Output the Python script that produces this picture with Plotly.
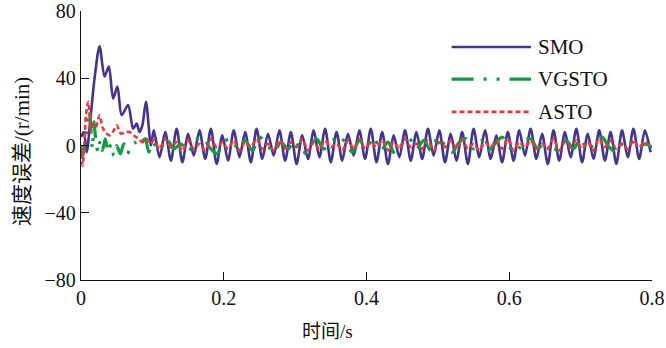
import numpy as np
import plotly.graph_objects as go

# ---------------- data ----------------
series_names = ["SMO", "VGSTO", "ASTO"]
x_tick_vals = [0, 0.2, 0.4, 0.6, 0.8]
x_tick_text = ["0", "0.2", "0.4", "0.6", "0.8"]
y_tick_vals = [-80, -40, 0, 40, 80]

# SMO: start-up transient (time, value) then steady oscillation
smo_t_start = [0, 0.004, 0.008, 0.013, 0.019, 0.026, 0.033, 0.039, 0.045, 0.051,
               0.057, 0.066, 0.073, 0.078, 0.082, 0.086, 0.091, 0.098]
smo_v_start = [5, 8, -4, 15, 40, 59, 41, 47, 28, 35,
               18, 24, 10, 13, 8, 12, 26, 0]
smo_steady_t0 = 0.102
smo_steady_dt = 0.008
smo_v_steady = [9, -7, 8, -9, 10, -10, 7, -6, 9, -8, 10, -11, 6, -9, 9, -7, 8, -10, 10, -8,
                7, -6, 9, -9, 8, -11, 6, -8, 9, -7, 10, -10, 8, -9, 7, -6, 9, -8, 10, -10,
                8, -11, 6, -7, 9, -9, 8, -8, 10, -6, 9, -10, 7, -9, 8, -11, 10, -7, 9, -8,
                6, -10, 8, -9, 9, -6, 10, -8, 7, -11, 9, -9, 8, -7, 10, -10, 7, -8, 9, -9,
                8, -11, 9, -7, 10, -8, 9, -4]

# VGSTO
vg_t_start = [0, 0.003, 0.006, 0.009, 0.012, 0.014, 0.016, 0.018, 0.021, 0.024,
              0.027, 0.030, 0.034, 0.038, 0.042, 0.046, 0.050, 0.055, 0.060, 0.065,
              0.070, 0.075, 0.080, 0.085, 0.090, 0.095]
vg_v_start = [0, -6, 2, 12, 21, 8, -2, 14, 2, -4,
              3, -3, 4, -4, 1, -6, 0, -5, 1, -5,
              0, 2, -1, 2, 4, -4]
vg_steady_t0 = 0.10
vg_steady_dt = 0.01
vg_v_steady = [2, -3, 4, -2, 1, -4, 3, 5, -1, -5, 2, 4, -2, 3, -3, 5, 1, -4, 2, -2,
               3, -5, -1, 4, -2, 1, 6, 2, -4, 3, -1, 5, -3, 2, -5, 1, 4, -2, 3, -3,
               5, 0, -4, 2, 4, -2, 3, -3, 1, 5, -1, -4, 3, 4, -2, 2, -5, 1, 3, -2,
               4, -3, 2, 5, -1, -4, 2, 3, -2, 1, -1]

# ASTO
as_t_start = [0, 0.002, 0.004, 0.007, 0.010, 0.012, 0.014, 0.016, 0.020, 0.026,
              0.030, 0.034, 0.040, 0.046, 0.050, 0.056, 0.062, 0.068, 0.074, 0.080,
              0.086, 0.092, 0.097]
as_v_start = [0, -12, -4, 18, 26, 18, 8, 12, 10, 18,
              11, 8, 6, 9, 12, 7, 8, 8, 6, 4,
              2, 4, 1]
as_steady_t0 = 0.102
as_steady_dt = 0.008
as_v_steady = [3, -2, 4, -1, 2, -3, 3, -2, 1, -3, 4, -1, 2, -2, 3, -3, 2, -1, 4, -2,
               1, -3, 3, -2, 2, -1, 4, -3, 2, -2, 3, -1, 1, -3, 3, -2, 4, -2, 2, -1,
               3, -3, 2, -2, 4, -1, 1, -2, 3, -3, 2, -1, 3, -2, 4, -2, 1, -3, 2, -1,
               3, -2, 4, -3, 2, -1, 3, -2, 1, -2, 4, -3, 2, -1, 3, -2, 2, -3, 4, -1,
               3, -2, 1, -2, 3, -1, 2, -1]


def join(t_start, v_start, t0, dt, v_steady):
    t = list(t_start) + [t0 + dt * i for i in range(len(v_steady))]
    return t, list(v_start) + list(v_steady)


smo_t, smo_v = join(smo_t_start, smo_v_start, smo_steady_t0, smo_steady_dt, smo_v_steady)
vg_t, vg_v = join(vg_t_start, vg_v_start, vg_steady_t0, vg_steady_dt, vg_v_steady)
as_t, as_v = join(as_t_start, as_v_start, as_steady_t0, as_steady_dt, as_v_steady)

# ---------------- style ----------------
C_SMO = "#43348f"
C_VG = "#0f9a45"
C_AS = "#e8393d"
DASH_VG = "22px,10px,3px,10px,3px,10px"
DASH_AS = "5px,3px"
FONT = "Liberation Serif, Times New Roman, Noto Sans CJK SC, serif"

fig = go.Figure()
fig.add_trace(go.Scatter(x=smo_t, y=smo_v, mode="lines", name=series_names[0],
                         line=dict(color=C_SMO, width=2.6, shape="spline", smoothing=0.8)))
fig.add_trace(go.Scatter(x=vg_t, y=vg_v, mode="lines", name=series_names[1],
                         line=dict(color=C_VG, width=3.2, dash=DASH_VG, shape="spline", smoothing=0.8)))
fig.add_trace(go.Scatter(x=as_t, y=as_v, mode="lines", name=series_names[2],
                         line=dict(color=C_AS, width=2.6, dash=DASH_AS, shape="spline", smoothing=0.8)))

# manual legend (paper coordinates)
leg_rows = [(0.866, C_SMO, "solid", 2.6), (0.747, C_VG, DASH_VG, 3.2), (0.625, C_AS, DASH_AS, 2.6)]
shapes = []
annotations = []
for (yy, col, dash, w), name in zip(leg_rows, series_names):
    shapes.append(dict(type="line", xref="paper", yref="paper", x0=0.649, x1=0.788, y0=yy, y1=yy,
                       line=dict(color=col, width=w, dash=dash)))
    annotations.append(dict(xref="paper", yref="paper", x=0.797, y=yy, text=name, showarrow=False,
                            xanchor="left", yanchor="middle", font=dict(family=FONT, size=21, color="#111")))

# axis titles as annotations
annotations.append(dict(xref="paper", yref="paper", x=(327 - 81) / 571, y=(280 - 331) / 269,
                        text="时间/s", showarrow=False, xanchor="center", yanchor="middle",
                        font=dict(family=FONT, size=19, color="#111")))
annotations.append(dict(xref="paper", yref="paper", x=(22 - 81) / 571, y=(280 - 152) / 269,
                        text="速度误差/(r/min)", showarrow=False, textangle=-90,
                        xanchor="center", yanchor="middle",
                        font=dict(family=FONT, size=21, color="#111")))

fig.update_layout(
    width=666, height=348,
    margin=dict(l=81, r=14, t=11, b=68, autoexpand=False),
    paper_bgcolor="white", plot_bgcolor="white",
    showlegend=False,
    shapes=shapes, annotations=annotations,
    font=dict(family=FONT, size=19, color="#111"),
)
fig.update_xaxes(range=[0, 0.8], tickvals=x_tick_vals, ticktext=x_tick_text, automargin=False,
                 showline=True, linecolor="#111", linewidth=1.4, ticks="inside", ticklen=8,
                 tickwidth=1.3, tickcolor="#111", showgrid=False, zeroline=False,
                 ticklabeloverflow="allow",
                 tickfont=dict(family=FONT, size=20, color="#111"))
fig.update_yaxes(range=[-80, 80], tickvals=y_tick_vals, automargin=False,
                 showline=True, linecolor="#111", linewidth=1.4, ticks="inside", ticklen=8,
                 tickwidth=1.3, tickcolor="#111", showgrid=False, zeroline=False,
                 ticklabeloverflow="allow",
                 tickfont=dict(family=FONT, size=20, color="#111"))

# remove the browser's default 8px body margin so the figure sits at the window origin
fig.write_html("out.html", config={"displayModeBar": False},
               post_script="document.body.style.margin='0px';")
